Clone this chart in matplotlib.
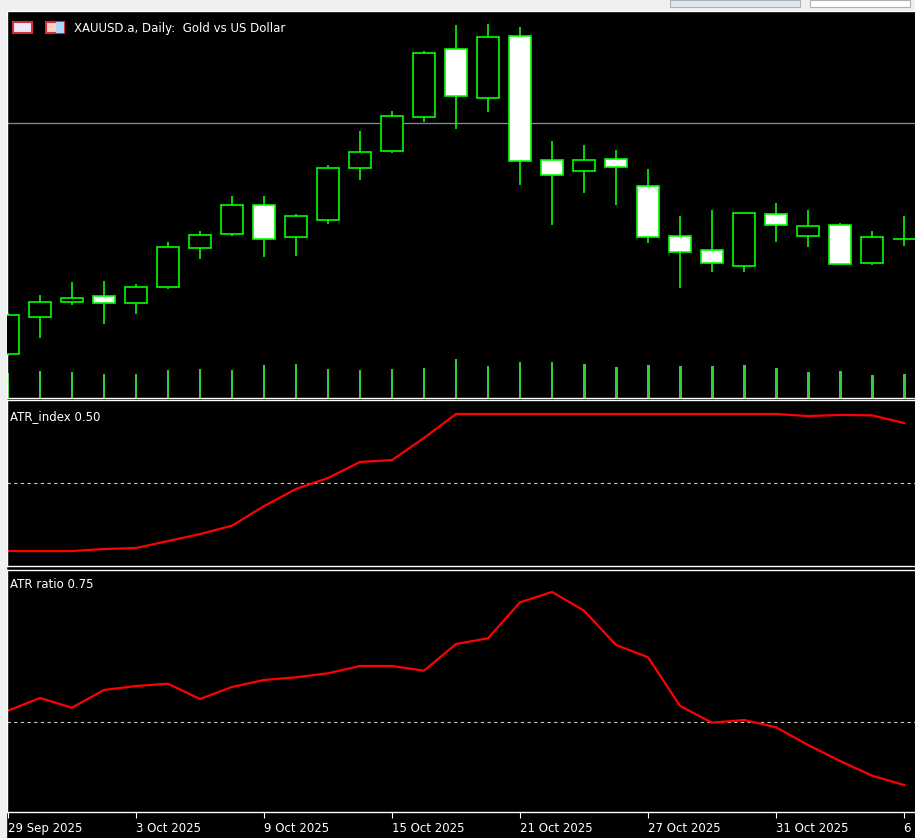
import matplotlib
matplotlib.use("Agg")
import matplotlib.pyplot as plt
from matplotlib.patches import Rectangle

dates = ["29 Sep 2025","30 Sep 2025","1 Oct 2025","2 Oct 2025","3 Oct 2025","6 Oct 2025","7 Oct 2025",
         "8 Oct 2025","9 Oct 2025","10 Oct 2025","13 Oct 2025","14 Oct 2025","15 Oct 2025","16 Oct 2025",
         "17 Oct 2025","20 Oct 2025","21 Oct 2025","22 Oct 2025","23 Oct 2025","24 Oct 2025","27 Oct 2025",
         "28 Oct 2025","29 Oct 2025","30 Oct 2025","31 Oct 2025","3 Nov 2025","4 Nov 2025","5 Nov 2025","6 Nov 2025"]
opens  = [3780.8,3847.4,3874.4,3885.2,3872.6,3901.4,3971.6,3996.8,4049.0,3991.4,4022.0,4117.4,4148.0,4209.2,
          4331.6,4243.4,4355.0,4131.8,4112.0,4133.6,4085.0,3993.2,3968.0,3939.2,4032.8,3993.2,4013.0,3944.6,3987.8]
highs  = [3854.6,3887.0,3910.4,3912.2,3906.8,3982.4,4002.2,4067.0,4067.0,4032.8,4122.8,4184.0,4220.0,4328.0,
          4374.8,4376.6,4371.2,4166.0,4158.8,4149.8,4115.6,4029.2,4040.0,4036.4,4054.4,4040.0,4016.6,4002.2,4029.2]
lows   = [3777.2,3809.6,3869.0,3834.8,3852.8,3897.8,3951.8,3993.2,3955.4,3957.2,4014.8,4095.8,4144.4,4200.2,
          4187.6,4218.2,4086.8,4013.0,4072.4,4050.8,3980.6,3899.6,3928.4,3928.4,3982.4,3973.4,3941.0,3941.0,3975.2]
closes = [3851.0,3874.4,3881.6,3872.6,3901.4,3973.4,3995.0,4050.8,3987.8,4029.2,4117.4,4146.2,4211.0,4324.4,
          4247.0,4353.2,4130.0,4104.8,4131.8,4119.2,3991.4,3964.4,3944.6,4034.6,4013.0,4011.2,3942.8,3991.4,3988.4]
volumes = [125000,135000,130000,120000,120000,140000,145000,140000,165000,170000,145000,140000,145000,150000,
           195000,160000,180000,180000,170000,155000,165000,160000,160000,165000,150000,130000,135000,115000,120000]
atr_index = [0.0,0.0,0.0,0.015,0.022,0.073,0.124,0.185,0.328,0.453,0.533,0.650,0.664,0.825,1.0,1.0,1.0,1.0,
             1.0,1.0,1.0,1.0,1.0,1.0,1.0,0.985,0.993,0.99,0.934]
atr_ratio = [0.8065,0.87,0.8215,0.91,0.93,0.9415,0.865,0.925,0.96,0.9735,0.9935,1.03,1.03,1.0065,1.14,1.1685,
             1.3485,1.40,1.3065,1.135,1.0735,0.83,0.7465,0.76,0.7235,0.635,0.555,0.4815,0.435]
bid_price = 4198.4
tick_idx = [0, 4, 8, 12, 16, 20, 24, 28]

W, H = 915, 838
fig = plt.figure(figsize=(W/100, H/100), dpi=100, facecolor="black")
fig.patches.append(Rectangle((0, (H-10)/H), 1, 10/H, transform=fig.transFigure, color="#f0f0f0", zorder=0))
fig.patches.append(Rectangle((0, 0), 6/W, 1, transform=fig.transFigure, color="#f0f0f0", zorder=0))
fig.patches.append(Rectangle((670/W, (H-7)/H), 130/W, 7/H, transform=fig.transFigure, facecolor="#dce8f4", edgecolor="#b0b0b0", lw=0.8))
fig.patches.append(Rectangle((810/W, (H-7)/H), 100/W, 7/H, transform=fig.transFigure, facecolor="white", edgecolor="#b0b0b0", lw=0.8))

def mkax(top, bottom):
    ax = fig.add_axes([7/W, (H-bottom)/H, (W-7)/W, (bottom-top)/H])
    ax.set_facecolor("black")
    for s in ax.spines.values():
        s.set_color("white"); s.set_linewidth(1)
    ax.spines["right"].set_visible(False)
    ax.set_xlim(-0.03, 28.34)
    ax.set_xticks([]); ax.set_yticks([])
    return ax

ax1 = mkax(11, 398)
ax2 = mkax(400, 566)
ax3 = mkax(570, 812)

n = len(opens)
xs = list(range(n))
axv = ax1.twinx()
axv.set_ylim(0, 1935000)
axv.set_yticks([])
axv.bar(xs, volumes, width=0.09, color="#32cd32", zorder=1)
for s in axv.spines.values():
    s.set_visible(False)

ax1.set_zorder(axv.get_zorder() + 1)
ax1.patch.set_visible(False)
axv.set_facecolor("black")
ax1.set_ylim(3701.6, 4400)
ax1.axhline(bid_price, color="#778899", lw=1, zorder=1)
bw = 0.69
for i in xs:
    o, h, l, c = opens[i], highs[i], lows[i], closes[i]
    ax1.vlines(i, l, h, color="#00ff00", lw=1.2, zorder=2)
    bull = c >= o
    lo, hi = min(o, c), max(o, c)
    ax1.add_patch(Rectangle((i - bw/2, lo), bw, max(hi - lo, 0.8), facecolor="black" if bull else "white",
                            edgecolor="#00ff00", lw=1.2, zorder=3))

ax1.text(0.074, 0.955, "XAUUSD.a, Daily:  Gold vs US Dollar", transform=ax1.transAxes, color="white",
         fontsize=8.5, va="center", ha="left")
ax1.add_patch(Rectangle((0.007, 0.942), 0.02, 0.03, transform=ax1.transAxes, facecolor="#e8e8f8", edgecolor="#d03030", lw=1.5))
ax1.add_patch(Rectangle((0.0425, 0.942), 0.02, 0.03, transform=ax1.transAxes, facecolor="#ffd0c0", edgecolor="#d03030", lw=1.5))
ax1.add_patch(Rectangle((0.054, 0.942), 0.009, 0.03, transform=ax1.transAxes, facecolor="#a8d8f8", edgecolor="none"))

ax2.set_ylim(-0.109, 1.102)
ax2.axhline(0.5, color="#c8c8c8", lw=0.8, ls=(0, (3, 3)))
ax2.plot(xs, atr_index, color="red", lw=1.6)
ax2.text(0.003, 0.9, "ATR_index 0.50", transform=ax2.transAxes, color="white", fontsize=8.5, va="center")

ax3.set_ylim(0.30, 1.51)
ax3.axhline(0.75, color="#c8c8c8", lw=0.8, ls=(0, (3, 3)))
ax3.plot(xs, atr_ratio, color="red", lw=1.6)
ax3.text(0.003, 0.94, "ATR ratio 0.75", transform=ax3.transAxes, color="white", fontsize=8.5, va="center")

ax3.set_xticks(tick_idx)
ax3.set_xticklabels([dates[i] for i in tick_idx], ha="left", color="white", fontsize=8.5)
ax3.tick_params(axis="x", colors="white", direction="out", length=4, pad=3, labelcolor="white")

fig.savefig("out.png", dpi=100, facecolor="black")
